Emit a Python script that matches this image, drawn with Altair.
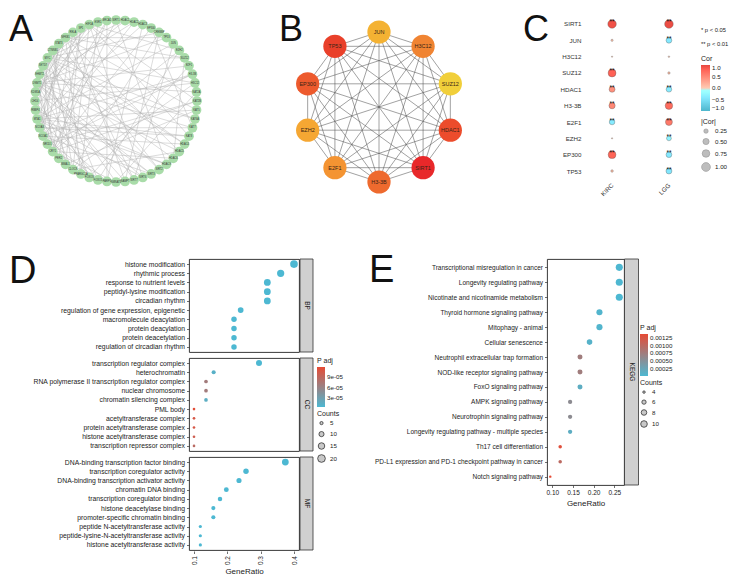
import math
import itertools
import altair as alt
import numpy as np
import pandas as pd

FONT = "Liberation Sans"

# ---------------- Panel A: PPI network (circle layout) ----------------
a_genes = ["SIRT1", "HDAC1", "HDAC2", "HDAC3", "EP300", "CREBBP", "TP53", "JUN", "EZH2", "SUZ12",
           "E2F1", "H3-3B", "H3C12", "KAT2A", "KAT2B", "KAT5", "KAT6A", "KAT7", "KAT8", "HDAC4",
           "HDAC5", "HDAC6", "HDAC9", "SIRT2", "SIRT3", "SIRT6", "SIRT7", "NAMPT", "NMNAT1", "PARP1",
           "FOXO1", "FOXO3", "PPARGC1A", "CLOCK", "BMAL1", "PER2", "CRY1", "NR1D1", "NCOA1", "NCOA3",
           "MTA1", "RBBP4", "CHD4", "KDM1A", "DNMT1", "EHMT2", "SETD7", "MYC", "CTNNB1", "STAT3",
           "NFKB1", "RELA", "SP1", "HIF1A", "ESR1", "BRCA1"]
a_edges = [(44, 2), (44, 6), (44, 10), (44, 13), (44, 17), (44, 20), (44, 24), (44, 27), (44, 31), (44, 35), (44, 50), (44, 53),
           (47, 1), (47, 5), (47, 9), (47, 12), (47, 16), (47, 19), (47, 23), (47, 26), (47, 30), (47, 34), (47, 38), (47, 54),
           (40, 3), (40, 7), (40, 11), (40, 15), (40, 18), (40, 22), (40, 25), (40, 29), (40, 33), (40, 52),
           (36, 0), (36, 4), (36, 8), (36, 14), (36, 21), (36, 28), (36, 46), (36, 51), (36, 55),
           (50, 6), (50, 9), (50, 15), (50, 20), (50, 26), (50, 32), (50, 39), (50, 42),
           (38, 2), (38, 11), (38, 19), (38, 24), (38, 30), (38, 45), (38, 49),
           (53, 8), (53, 14), (53, 18), (53, 25), (53, 33), (53, 41),
           (33, 5), (33, 12), (33, 20), (33, 43), (33, 48),
           (0, 22), (3, 29), (7, 26), (10, 31), (12, 42), (16, 45), (19, 48), (23, 49), (27, 51), (29, 55),
           (31, 46), (35, 52), (4, 17), (9, 21), (13, 28), (1, 43), (11, 37), (15, 34), (18, 39), (22, 41),
           (24, 43), (28, 45), (30, 42), (32, 54), (34, 52), (37, 49), (39, 55), (41, 48), (43, 54), (45, 51),
           (46, 50), (42, 35), (5, 27), (8, 30), (14, 37), (17, 39), (21, 46), (25, 44)]

# ---------------- Panel B: hub genes ----------------
b_genes = ["JUN", "H3C12", "SUZ12", "HDAC1", "SIRT1", "H3-3B", "E2F1", "EZH2", "EP300", "TP53"]
b_colors = ["#F4B233", "#F08432", "#F1CF3A", "#EC4C2C", "#E8282A", "#EE6A2E", "#F49432", "#F5A733", "#ED5A2D", "#E9402A"]

# ---------------- Panel C: correlation dots ----------------
c_genes = ["SIRT1", "JUN", "H3C12", "SUZ12", "HDAC1", "H3-3B", "E2F1", "EZH2", "EP300", "TP53"]
c_cancers = ["KIRC", "LGG"]
c_kirc_cor = [0.92, 0.06, 0.02, 0.80, 0.45, 0.50, -0.40, 0.02, 0.78, 0.08]
c_lgg_cor = [0.95, -0.42, 0.03, 0.07, -0.40, 0.72, 0.62, -0.30, -0.42, -0.45]
c_kirc_sig = ["**", "", "", "**", "**", "**", "**", "", "**", ""]
c_lgg_sig = ["**", "**", "", "", "**", "**", "**", "**", "**", "**"]
c_notes = ["* p < 0.05", "** p < 0.01"]

# ---------------- Panel D: GO enrichment ----------------
d_bp_terms = ["histone modification", "rhythmic process", "response to nutrient levels",
              "peptidyl-lysine modification", "circadian rhythm", "regulation of gene expression, epigenetic",
              "macromolecule deacylation", "protein deacylation", "protein deacetylation",
              "regulation of circadian rhythm"]
d_bp_ratio = [0.40, 0.36, 0.32, 0.32, 0.32, 0.24, 0.22, 0.22, 0.22, 0.22]
d_bp_count = [20, 18, 16, 16, 16, 12, 11, 11, 11, 11]
d_bp_padj = [1e-9, 1e-9, 2e-9, 2e-9, 3e-9, 5e-9, 5e-9, 5e-9, 5e-9, 6e-9]

d_cc_terms = ["transcription regulator complex", "heterochromatin", "RNA polymerase II transcription regulator complex",
              "nuclear chromosome", "chromatin silencing complex", "PML body", "acetyltransferase complex",
              "protein acetyltransferase complex", "histone acetyltransferase complex",
              "transcription repressor complex"]
d_cc_ratio = [0.295, 0.159, 0.136, 0.136, 0.136, 0.10, 0.10, 0.10, 0.10, 0.10]
d_cc_count = [13, 7, 6, 6, 6, 4, 4, 4, 4, 4]
d_cc_padj = [1e-6, 1.2e-5, 6.8e-5, 6.8e-5, 1.5e-5, 1.17e-4, 1.07e-4, 1.07e-4, 1.0e-4, 8.5e-5]

d_mf_terms = ["DNA-binding transcription factor binding", "transcription coregulator activity",
              "DNA-binding transcription activator activity", "chromatin DNA binding",
              "transcription coregulator binding", "histone deacetylase binding",
              "promoter-specific chromatin binding", "peptide N-acetyltransferase activity",
              "peptide-lysine-N-acetyltransferase activity", "histone acetyltransferase activity"]
d_mf_ratio = [0.374, 0.256, 0.235, 0.197, 0.178, 0.158, 0.158, 0.119, 0.119, 0.119]
d_mf_count = [16, 11, 10, 9, 8, 7, 7, 5, 5, 5]
d_mf_padj = [1e-9, 2e-9, 2e-9, 3e-9, 3e-9, 4e-9, 4e-9, 5e-9, 5e-9, 5e-9]

# ---------------- Panel E: KEGG enrichment ----------------
e_terms = ["Transcriptional misregulation in cancer", "Longevity regulating pathway",
           "Nicotinate and nicotinamide metabolism", "Thyroid hormone signaling pathway", "Mitophagy - animal",
           "Cellular senescence", "Neutrophil extracellular trap formation", "NOD-like receptor signaling pathway",
           "FoxO signaling pathway", "AMPK signaling pathway", "Neurotrophin signaling pathway",
           "Longevity regulating pathway - multiple species", "Th17 cell differentiation",
           "PD-L1 expression and PD-1 checkpoint pathway in cancer", "Notch signaling pathway"]
e_ratio = [0.262, 0.262, 0.262, 0.214, 0.214, 0.190, 0.167, 0.167, 0.167, 0.143, 0.143, 0.143, 0.119, 0.119, 0.095]
e_count = [11, 11, 11, 9, 9, 8, 7, 7, 7, 6, 6, 6, 5, 5, 4]
e_padj = [3.0e-5, 3.0e-5, 2.0e-5, 6e-5, 6e-5, 1.0e-4, 7.6e-4, 7.6e-4, 1.6e-4, 5.8e-4, 5.8e-4, 1.6e-4,
          1.33e-3, 1.0e-3, 1.38e-3]

BLUE = "#4DB8D2"
RED = "#E64B35"
LETTER_SIZE = 36


def letter(t, x, y):
    return alt.Chart(pd.DataFrame({"t": [t]})).mark_text(
        fontSize=LETTER_SIZE, align="left", baseline="alphabetic", font=FONT, color="#111"
    ).encode(x=alt.value(x), y=alt.value(y), text="t:N")


no_frame = alt.ViewBackground(strokeOpacity=0)

# ================= Panel A =================
# (drawn to the left of its own origin so that the grid origin can be shared with panel D)
n = len(a_genes)
ang = [math.pi / 2 - 2 * math.pi * i / n for i in range(n)]
a_nodes = pd.DataFrame({"gene": a_genes, "x": np.cos(ang), "y": np.sin(ang)})
a_edge_df = pd.DataFrame([
    {"x": a_nodes.x[i], "y": a_nodes.y[i], "x2": a_nodes.x[j], "y2": a_nodes.y[j]} for i, j in a_edges
])
AU = 81.0
AW, AH = 22, 178
A_LEFT = -168
xA = alt.X("x:Q", scale=alt.Scale(domain=[-95 / AU, 95 / AU], range=[A_LEFT, A_LEFT + 190], nice=False,
                                  zero=False), axis=None)
yA = alt.Y("y:Q", scale=alt.Scale(domain=[-(AH - 86) / AU, 86 / AU], nice=False, zero=False), axis=None)
A = alt.layer(
    alt.Chart(a_edge_df).mark_rule(color="#B0B0B0", strokeWidth=0.45).encode(x=xA, y=yA, x2="x2:Q", y2="y2:Q"),
    alt.Chart(a_nodes).mark_circle(size=95, color="#A9DCA9", opacity=1).encode(x=xA, y=yA),
    alt.Chart(a_nodes).mark_text(fontSize=2.6, color="#333").encode(x=xA, y=yA, text="gene:N"),
    letter("A", -180, 26),
).properties(width=AW, height=AH, view=no_frame)

# ================= Panel B =================
m = len(b_genes)
bang = [math.pi / 2 - 2 * math.pi * i / m for i in range(m)]
b_nodes = pd.DataFrame({"gene": b_genes, "x": np.cos(bang), "y": np.sin(bang)})
b_edge_df = pd.DataFrame([
    {"x": b_nodes.x[i], "y": b_nodes.y[i], "x2": b_nodes.x[j], "y2": b_nodes.y[j]}
    for i, j in itertools.combinations(range(m), 2)
])
BW, BH, BU = 180, 186, 75.0
xB = alt.X("x:Q", scale=alt.Scale(domain=[-BW / 2 / BU, BW / 2 / BU], nice=False, zero=False), axis=None)
yB = alt.Y("y:Q", scale=alt.Scale(domain=[-(BH - 92) / BU, 92 / BU], nice=False, zero=False), axis=None)
B = alt.layer(
    alt.Chart(b_edge_df).mark_rule(color="#555", strokeWidth=0.55).encode(x=xB, y=yB, x2="x2:Q", y2="y2:Q"),
    alt.Chart(b_nodes).mark_circle(size=540, opacity=1).encode(
        x=xB, y=yB, color=alt.Color("gene:N", scale=alt.Scale(domain=b_genes, range=b_colors), legend=None)),
    alt.Chart(b_nodes).mark_text(fontSize=5.5, color="#3a2416").encode(x=xB, y=yB, text="gene:N"),
    letter("B", -10, 26),
).properties(width=BW, height=BH, view=no_frame)

# ================= Panel C =================
c_df = pd.DataFrame({
    "gene": c_genes * 2,
    "cancer": ["KIRC"] * len(c_genes) + ["LGG"] * len(c_genes),
    "cor": c_kirc_cor + c_lgg_cor,
    "sig": c_kirc_sig + c_lgg_sig,
})
c_df["abscor"] = c_df["cor"].abs()
CW, CH = 91, 165
xC = alt.X("cancer:N", sort=c_cancers, scale=alt.Scale(type="point", padding=0.3),
           axis=alt.Axis(title=None, labelAngle=315, labelAlign="right", labelBaseline="middle", domain=False,
                         ticks=False, labelPadding=4, labelFontSize=6.2, labelColor="#333"))
yC = alt.Y("gene:N", sort=c_genes, scale=alt.Scale(type="point", padding=0.55),
           axis=alt.Axis(title=None, domain=False, ticks=False, labelPadding=14, labelFontSize=6.2,
                         labelColor="#333"))
c_pts = alt.Chart(c_df).mark_circle(opacity=1, stroke="#555", strokeWidth=0.35).encode(
    x=xC, y=yC,
    color=alt.Color("cor:Q", scale=alt.Scale(domain=[-1, 0, 1], range=["#4DB6CC", "#FFFFFF", "#E5463F"]),
                    legend=alt.Legend(title="Cor", orient="none", legendX=106, legendY=40, direction="vertical",
                                      gradientLength=46, gradientThickness=9, values=[-1, -0.5, 0, 0.5, 1],
                                      format=".1f", labelOverlap=False)),
    size=alt.Size("abscor:Q", scale=alt.Scale(domain=[0, 1], range=[0, 78]),
                  legend=alt.Legend(title="|Cor|", orient="none", legendX=106, legendY=103,
                                    values=[0.25, 0.5, 0.75, 1.0], format=".2f", symbolFillColor="#BDBDBD",
                                    symbolStrokeColor="#888", symbolStrokeWidth=0.5, symbolOpacity=1)),
)
c_stars = alt.Chart(c_df).transform_filter("datum.sig != ''").mark_text(
    fontSize=6.5, color="#111", dy=-1.5).encode(x=xC, y=yC, text="sig:N")
c_note1 = alt.Chart(pd.DataFrame({"t": [c_notes[0]]})).mark_text(
    fontSize=5.8, align="left", color="#222").encode(x=alt.value(106), y=alt.value(15), text="t:N")
c_note2 = alt.Chart(pd.DataFrame({"t": [c_notes[1]]})).mark_text(
    fontSize=5.8, align="left", color="#222").encode(x=alt.value(106), y=alt.value(29), text="t:N")
C = alt.layer(c_pts, c_stars, c_note1, c_note2, letter("C", -72, 26)).properties(
    width=CW, height=CH, view=no_frame)

# ================= Panel D =================
d_df = pd.DataFrame({
    "ont": ["BP"] * 10 + ["CC"] * 10 + ["MF"] * 10,
    "term": d_bp_terms + d_cc_terms + d_mf_terms,
    "ratio": d_bp_ratio + d_cc_ratio + d_mf_ratio,
    "count": d_bp_count + d_cc_count + d_mf_count,
    "padj": d_bp_padj + d_cc_padj + d_mf_padj,
})
d_df["first"] = [i % 10 == 0 for i in range(len(d_df))]
DW, DH = 110, 93
d_pts = alt.Chart().mark_circle(opacity=1).encode(
    x=alt.X("ratio:Q", scale=alt.Scale(domain=[0.085, 0.415], nice=False, zero=False),
            axis=alt.Axis(title="GeneRatio", values=[0.1, 0.2, 0.3, 0.4], format=".1f", labelAngle=270,
                          labelAlign="right", labelBaseline="middle", labelFontSize=6.5, titleFontSize=8,
                          tickSize=2.5, domain=False, titlePadding=3)),
    y=alt.Y("term:N", sort=d_bp_terms + d_cc_terms + d_mf_terms, scale=alt.Scale(type="point", padding=0.55),
            axis=alt.Axis(title=None, labelFontSize=6.8, tickSize=2.5, domain=False, labelPadding=2,
                          labelLimit=260)),
    color=alt.Color("padj:Q", scale=alt.Scale(domain=[4e-6, 1.19e-4], range=[BLUE, RED], clamp=True,
                                              interpolate="rgb"),
                    legend=alt.Legend(title="P adj", orient="none", legendX=128, legendY=98,
                                      direction="vertical", gradientLength=40, gradientThickness=8,
                                      values=[3e-5, 6e-5, 9e-5], labelOverlap=False,
                                      labelExpr="replace(format(datum.value, '.0e'), 'e-', 'e-0')")),
    size=alt.Size("count:Q", scale=alt.Scale(domain=[4, 20], range=[7, 59]),
                  legend=alt.Legend(title="Counts", orient="none", legendX=128, legendY=151,
                                    values=[5, 10, 15, 20], symbolFillColor="#C8C8C8", symbolStrokeColor="#333",
                                    symbolStrokeWidth=0.8, symbolOpacity=1)),
)
d_strip = alt.Chart().transform_filter("datum.first").mark_rect(
    fill="#D0D0D0", stroke="#333", strokeWidth=0.8).encode(
    x=alt.value(DW + 1), x2=alt.value(DW + 14), y=alt.value(0), y2=alt.value(DH))
d_strip_txt = alt.Chart().transform_filter("datum.first").mark_text(
    angle=90, fontSize=6.5, color="#222").encode(x=alt.value(DW + 7.5), y=alt.value(DH / 2), text="ont:N")
d_letter = alt.Chart().transform_filter("datum.term == 'histone modification'").mark_text(
    text="D", fontSize=LETTER_SIZE + 2, align="left", baseline="alphabetic", font=FONT, color="#111").encode(
    x=alt.value(-180), y=alt.value(24))
D = alt.layer(d_pts, d_strip, d_strip_txt, d_letter, data=d_df).properties(width=DW, height=DH).facet(
    row=alt.Row("ont:N", sort=["BP", "CC", "MF"], header=alt.Header(labels=False, title=None)),
    spacing=4,
).resolve_scale(y="independent")

# ================= Panel E =================
e_df = pd.DataFrame({"term": e_terms, "ratio": e_ratio, "count": e_count, "padj": e_padj})
EW, EH = 77, 226
e_pts = alt.Chart(e_df).mark_circle(opacity=1).encode(
    x=alt.X("ratio:Q", scale=alt.Scale(domain=[0.0871, 0.2734], nice=False, zero=False),
            axis=alt.Axis(title="GeneRatio", values=[0.1, 0.15, 0.2, 0.25], format=".2f", labelAngle=0,
                          labelFontSize=6.5, titleFontSize=8, tickSize=2.5, domain=False, titlePadding=3)),
    y=alt.Y("term:N", sort=e_terms, scale=alt.Scale(type="point", padding=0.56),
            axis=alt.Axis(title=None, labelFontSize=6.5, tickSize=2.5, domain=False, labelPadding=2,
                          labelLimit=260)),
    color=alt.Color("padj:Q", scale=alt.Scale(domain=[0.00002, 0.00138], range=[BLUE, RED], clamp=True,
                                              interpolate="rgb"),
                    legend=alt.Legend(title="P adj", orient="none", legendX=93, legendY=65,
                                      direction="vertical", gradientLength=42, gradientThickness=8,
                                      values=[0.00025, 0.0005, 0.00075, 0.001, 0.00125], format=".5f",
                                      labelOverlap=False)),
    size=alt.Size("count:Q", scale=alt.Scale(domain=[4, 11], range=[6, 50]),
                  legend=alt.Legend(title="Counts", orient="none", legendX=93, legendY=120,
                                    values=[4, 6, 8, 10], symbolFillColor="#C8C8C8", symbolStrokeColor="#333",
                                    symbolStrokeWidth=0.8, symbolOpacity=1)),
)
e_strip = alt.Chart(pd.DataFrame({"t": ["KEGG"]})).mark_rect(
    fill="#D0D0D0", stroke="#333", strokeWidth=0.8).encode(
    x=alt.value(EW + 0.5), x2=alt.value(EW + 14.5), y=alt.value(0), y2=alt.value(EH))
e_strip_txt = alt.Chart(pd.DataFrame({"t": ["KEGG"]})).mark_text(
    angle=90, fontSize=6.5, color="#222").encode(x=alt.value(EW + 7.5), y=alt.value(EH / 2), text="t:N")
e_letter = alt.Chart(pd.DataFrame({"t": ["E"]})).mark_text(
    fontSize=LETTER_SIZE + 2, align="left", baseline="alphabetic", font=FONT, color="#111"
).encode(x=alt.value(-178), y=alt.value(23), text="t:N")
E = alt.layer(e_pts, e_strip, e_strip_txt, e_letter).properties(width=EW, height=EH)

# ================= Layout =================
ind = dict(color="independent", size="independent")
top = alt.hconcat(alt.hconcat(A, B, spacing=68).resolve_scale(**ind), C, spacing=54).resolve_scale(**ind)
bottom = alt.hconcat(D, E, spacing=25).resolve_scale(**ind)
chart = alt.vconcat(top, bottom, spacing=50).resolve_scale(**ind).properties(
    padding={"top": 4, "left": 0, "right": 0, "bottom": 0})
chart = chart.configure_view(stroke="#222", strokeWidth=0.9).configure_axis(
    labelFont=FONT, titleFont=FONT, labelColor="#222", titleColor="#222", titleFontWeight="normal",
    tickColor="#333", tickWidth=0.7, grid=False
).configure_legend(
    titleFont=FONT, labelFont=FONT, titleFontWeight="normal", titleColor="#222", labelColor="#222",
    titleFontSize=7, labelFontSize=6.2, titlePadding=3
).configure_text(font=FONT)

chart.save("out.html", embed_options={"renderer": "svg", "actions": False})
